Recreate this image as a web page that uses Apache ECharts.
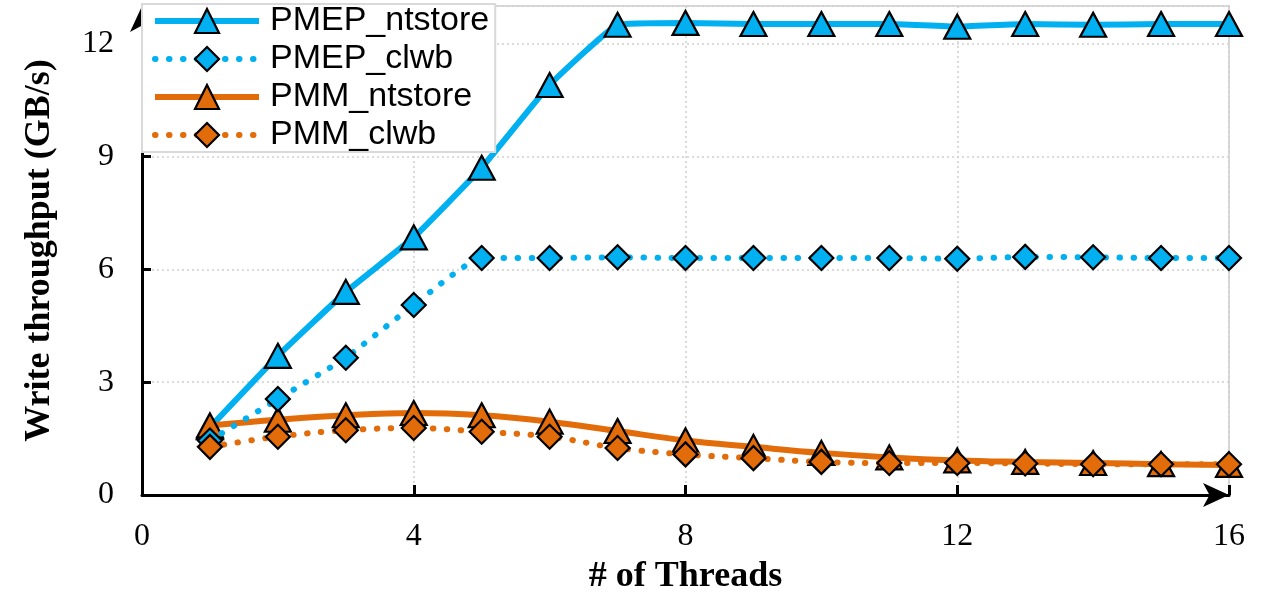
<!DOCTYPE html>
<html>
<head>
<meta charset="utf-8">
<script src="https://cdn.jsdelivr.net/npm/echarts@6/dist/echarts.min.js"></script>
<style>
  html, body { margin: 0; padding: 0; background: #fff; }
  #chart { width: 1268px; height: 600px; }
</style>
</head>
<body>
<div id="chart"></div>
<script>
const threads = [1, 2, 3, 4, 5, 6, 7, 8, 9, 10, 11, 12, 13, 14, 15, 16];
const pmepNtstore = [1.8, 3.7, 5.4, 6.85, 8.7, 10.9, 12.5, 12.55, 12.52, 12.52, 12.52, 12.45, 12.52, 12.5, 12.52, 12.52];
const pmepClwb = [1.45, 2.55, 3.65, 5.05, 6.3, 6.3, 6.32, 6.3, 6.3, 6.3, 6.3, 6.28, 6.33, 6.32, 6.3, 6.3];
const pmmNtstore = [1.85, 2.0, 2.12, 2.18, 2.12, 1.95, 1.7, 1.45, 1.28, 1.12, 1.0, 0.92, 0.88, 0.85, 0.82, 0.8];
const pmmClwb = [1.28, 1.55, 1.72, 1.78, 1.68, 1.55, 1.25, 1.08, 0.98, 0.88, 0.85, 0.85, 0.84, 0.82, 0.82, 0.82];
const xTicks = [0, 4, 8, 12, 16];
const yTicks = [0, 3, 6, 9, 12];

const BLUE = "#00b0f0";
const ORANGE = "#e36c0a";

const pairs = (vals) => threads.map((t, i) => [t, vals[i]]);

const lineFor = (color, dotted) =>
  dotted
    ? { color, width: 6, type: [0.5, 13.5], cap: "round" }
    : { color, width: 6 };

const makeSeries = (name, vals, color, symbol, dotted, smooth) => ({
  name,
  type: "line",
  data: pairs(vals),
  smooth,
  symbol,
  symbolSize: symbol === "triangle" ? [26, 24] : [24, 24],
  lineStyle: lineFor(color, dotted),
  itemStyle: { color, borderColor: "#000", borderWidth: 2.2 },
  z: dotted ? 3 : 2,
});

const legendItem = (name, color, dotted) => ({
  name,
  lineStyle: lineFor(color, dotted),
  itemStyle: { color, borderColor: "#000", borderWidth: 2.2 },
});

const chart = echarts.init(document.getElementById("chart"));

chart.setOption({
  animation: false,
  grid: {
    left: 142, right: 39, top: 6, bottom: 105,
    show: true, borderColor: "#d9d9d9", borderWidth: 2,
  },
  legend: {
    left: 142, top: 4,
    orient: "vertical",
    data: [
      legendItem("PMEP_ntstore", BLUE, false),
      legendItem("PMEP_clwb", BLUE, true),
      legendItem("PMM_ntstore", ORANGE, false),
      legendItem("PMM_clwb", ORANGE, true),
    ],
    itemWidth: 104, itemHeight: 30, itemGap: 4,
    padding: [0, 6, 0, 10],
    backgroundColor: "#fff",
    borderColor: "#d9d9d9", borderWidth: 2,
    textStyle: { fontFamily: "Liberation Sans", fontSize: 34, lineHeight: 33, color: "#000", padding: [0, 0, 0, 6] },
    z: 10,
  },
  xAxis: {
    type: "value",
    min: xTicks[0], max: xTicks[xTicks.length - 1], interval: 4,
    name: "# of Threads",
    nameLocation: "middle", nameGap: 64,
    nameTextStyle: { fontFamily: "Liberation Serif", fontWeight: "bold", fontSize: 36, color: "#000" },
    axisLine: { lineStyle: { color: "#000", width: 3 }, symbol: ["none", "arrow"], symbolSize: [18, 26] },
    axisTick: { inside: true, length: 10, lineStyle: { color: "#000", width: 3 } },
    axisLabel: { fontFamily: "Liberation Serif", fontSize: 32, color: "#000", margin: 26 },
    splitLine: { show: true, lineStyle: { color: "#cfcfcf", type: [2, 3], width: 1.5 } },
  },
  yAxis: {
    type: "value",
    min: yTicks[0], max: 13, interval: 3,
    name: "Write throughput (GB/s)",
    nameLocation: "middle", nameGap: 84,
    nameTextStyle: { fontFamily: "Liberation Serif", fontWeight: "bold", fontSize: 36, color: "#000" },
    axisLine: { show: true, lineStyle: { color: "#000", width: 3 }, symbol: ["none", "arrow"], symbolSize: [18, 26] },
    axisTick: { show: true, inside: true, length: 9, lineStyle: { color: "#000", width: 3 } },
    axisLabel: {
      fontFamily: "Liberation Serif", fontSize: 32, color: "#000", margin: 28,
      formatter: (v) => (yTicks.includes(v) ? String(v) : ""),
    },
    splitLine: { show: true, lineStyle: { color: "#cfcfcf", type: [2, 3], width: 1.5 } },
  },
  series: [
    makeSeries("PMEP_ntstore", pmepNtstore, BLUE, "triangle", false, 0.1),
    makeSeries("PMEP_clwb", pmepClwb, BLUE, "diamond", true, 0.15),
    makeSeries("PMM_ntstore", pmmNtstore, ORANGE, "triangle", false, 0.4),
    makeSeries("PMM_clwb", pmmClwb, ORANGE, "diamond", true, 0.4),
  ],
});
</script>
</body>
</html>
